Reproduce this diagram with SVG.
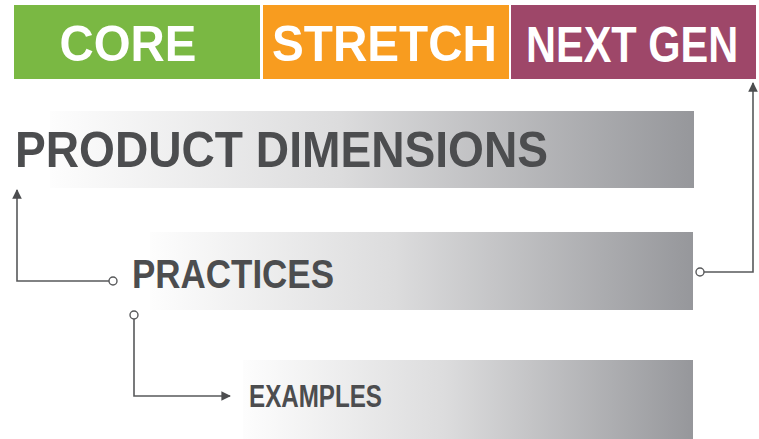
<svg xmlns="http://www.w3.org/2000/svg" width="759" height="439" viewBox="0 0 759 439">
  <style>
    .hdr { font-family: "Liberation Sans", Arial, sans-serif; font-weight: bold; font-size: 50px; fill: #ffffff; }
    .lbl { font-family: "Liberation Sans", Arial, sans-serif; font-weight: bold; fill: #4c4d4f; }
    .wire { fill: none; stroke: #58595b; stroke-width: 1.6; }
    .port { fill: #ffffff; stroke: #58595b; stroke-width: 1.4; }
  </style>
  <defs>
    <linearGradient id="fade" x1="0" y1="0" x2="1" y2="0">
      <stop offset="0" stop-color="#fdfdfd"/>
      <stop offset="0.45" stop-color="#dcdcdd"/>
      <stop offset="1" stop-color="#96979b"/>
    </linearGradient>
    <marker id="tip" viewBox="0 0 10 10" refX="9" refY="5" markerWidth="6" markerHeight="6" markerUnits="strokeWidth" orient="auto">
      <path d="M0,0 L10,5 L0,10 z" fill="#4c4d4f"/>
    </marker>
  </defs>

  <!-- tier headers -->
  <g id="core">
    <rect x="14" y="5" width="246" height="74" fill="#7ab843"/>
    <text class="hdr" x="128" y="61" text-anchor="middle" textLength="137" lengthAdjust="spacingAndGlyphs">CORE</text>
  </g>
  <g id="stretch">
    <rect x="263" y="5" width="246" height="74" fill="#f89c1f"/>
    <text class="hdr" x="272" y="61" textLength="225" lengthAdjust="spacingAndGlyphs">STRETCH</text>
  </g>
  <g id="next-gen">
    <rect x="511" y="5" width="245" height="74" fill="#9e4769"/>
    <text class="hdr" transform="translate(526,62) scale(0.83,1)" x="0" y="0">NEXT GEN</text>
  </g>

  <!-- levels -->
  <g id="product-dimensions">
    <rect x="50" y="111" width="644" height="77" fill="url(#fade)"/>
    <text class="lbl" x="15" y="167" font-size="50" textLength="533" lengthAdjust="spacingAndGlyphs">PRODUCT DIMENSIONS</text>
  </g>
  <g id="practices">
    <rect x="150" y="232" width="543" height="78" fill="url(#fade)"/>
    <text class="lbl" x="132" y="288" font-size="40" textLength="202" lengthAdjust="spacingAndGlyphs">PRACTICES</text>
  </g>
  <g id="examples">
    <rect x="243" y="360" width="450" height="79" fill="url(#fade)"/>
    <text class="lbl" x="249" y="407" font-size="32" textLength="133" lengthAdjust="spacingAndGlyphs">EXAMPLES</text>
  </g>

  <!-- connectors -->
  <g id="connectors">
    <path class="wire" d="M109,281 H17 V190" marker-end="url(#tip)"/>
    <circle class="port" cx="113" cy="281" r="4"/>
    <path class="wire" d="M704,272 H753 V83" marker-end="url(#tip)"/>
    <circle class="port" cx="700" cy="272" r="4"/>
    <path class="wire" d="M134,319 V396 H230" marker-end="url(#tip)"/>
    <circle class="port" cx="134" cy="315" r="4"/>
  </g>
</svg>
